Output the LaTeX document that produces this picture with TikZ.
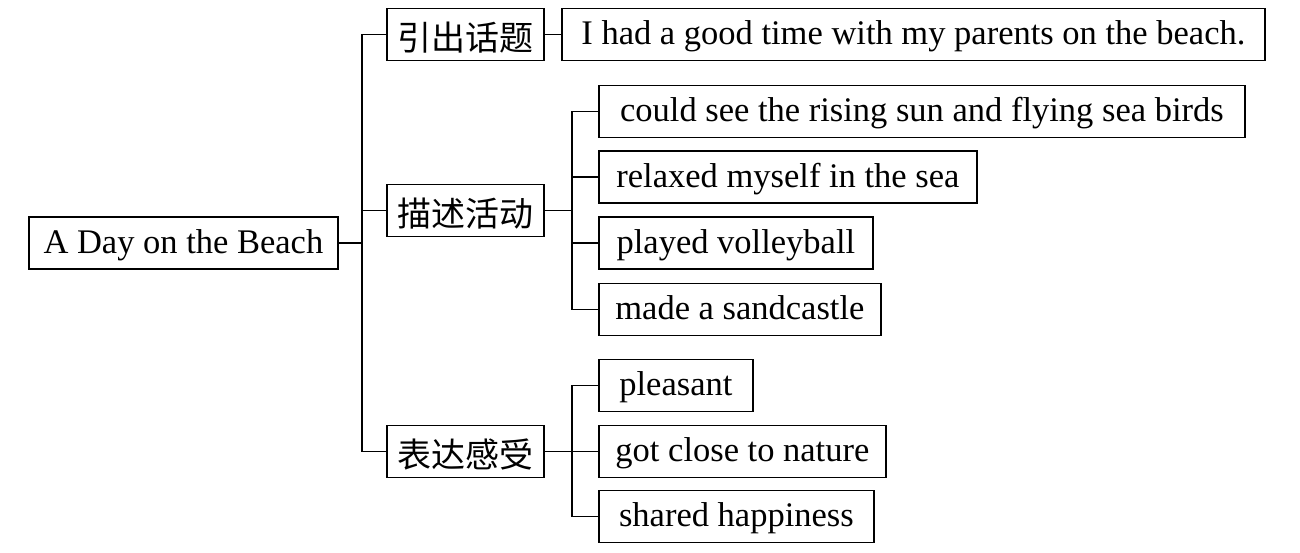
\documentclass[tikz,border=0pt]{standalone}
\usepackage{fontspec}
\setmainfont{Liberation Serif}
\newfontfamily\cjk{Noto Sans CJK SC}

\begin{document}
\begin{tikzpicture}[x=1pt,y=-1pt,
    box/.style={draw,line width=1.8pt,anchor=west,minimum height=52pt,inner sep=0pt,
        font=\fontsize{34.5}{40}\selectfont,text height=24pt,text depth=4pt},
    cbox/.style={box,font=\cjk\fontsize{34}{40}\selectfont,text height=32pt,text depth=1pt},
    link/.style={line width=1.8pt}]
    \useasboundingbox (0,0) rectangle (1300,552);
    \node[box,minimum width=309pt] (beach) at (28,243) {A Day on the Beach};
    \node[cbox,minimum width=157pt] (intro) at (386,34.5) {引出话题};
    \node[cbox,minimum width=157pt] (describe) at (386,210.5) {描述活动};
    \node[cbox,minimum width=157pt] (express) at (386,451.5) {表达感受};
    \node[box,minimum width=703pt] (sentence) at (561,34.5) {I had a good time with my parents on the beach.};
    \node[box,minimum width=646pt] (sun) at (598,111.5) {could see the rising sun and flying sea birds};
    \node[box,minimum width=378pt] (sea) at (598,177) {relaxed myself in the sea};
    \node[box,minimum width=274pt] (ball) at (598,243) {played volleyball};
    \node[box,minimum width=282pt] (castle) at (598,309.5) {made a sandcastle};
    \node[box,minimum width=154pt] (pleasant) at (598,385.5) {pleasant};
    \node[box,minimum width=287pt] (nature) at (598,451.5) {got close to nature};
    \node[box,minimum width=275pt] (happy) at (598,516.5) {shared happiness};
    \coordinate (bus) at (362,0);
    \coordinate (sub) at (572,0);
    \draw[link] (beach.east) -- (beach.east -| bus);
    \draw[link] (intro.west) -| (bus |- express.west) -- (express.west);
    \draw[link] (describe.west) -- (describe.west -| bus);
    \draw[link] (intro.east) -- (sentence.west);
    \draw[link] (describe.east) -- (describe.east -| sub);
    \draw[link] (sun.west) -| (sub |- castle.west) -- (castle.west);
    \draw[link] (sea.west) -- (sea.west -| sub);
    \draw[link] (ball.west) -- (ball.west -| sub);
    \draw[link] (express.east) -- (nature.west);
    \draw[link] (pleasant.west) -| (sub |- happy.west) -- (happy.west);
\end{tikzpicture}
\end{document}
